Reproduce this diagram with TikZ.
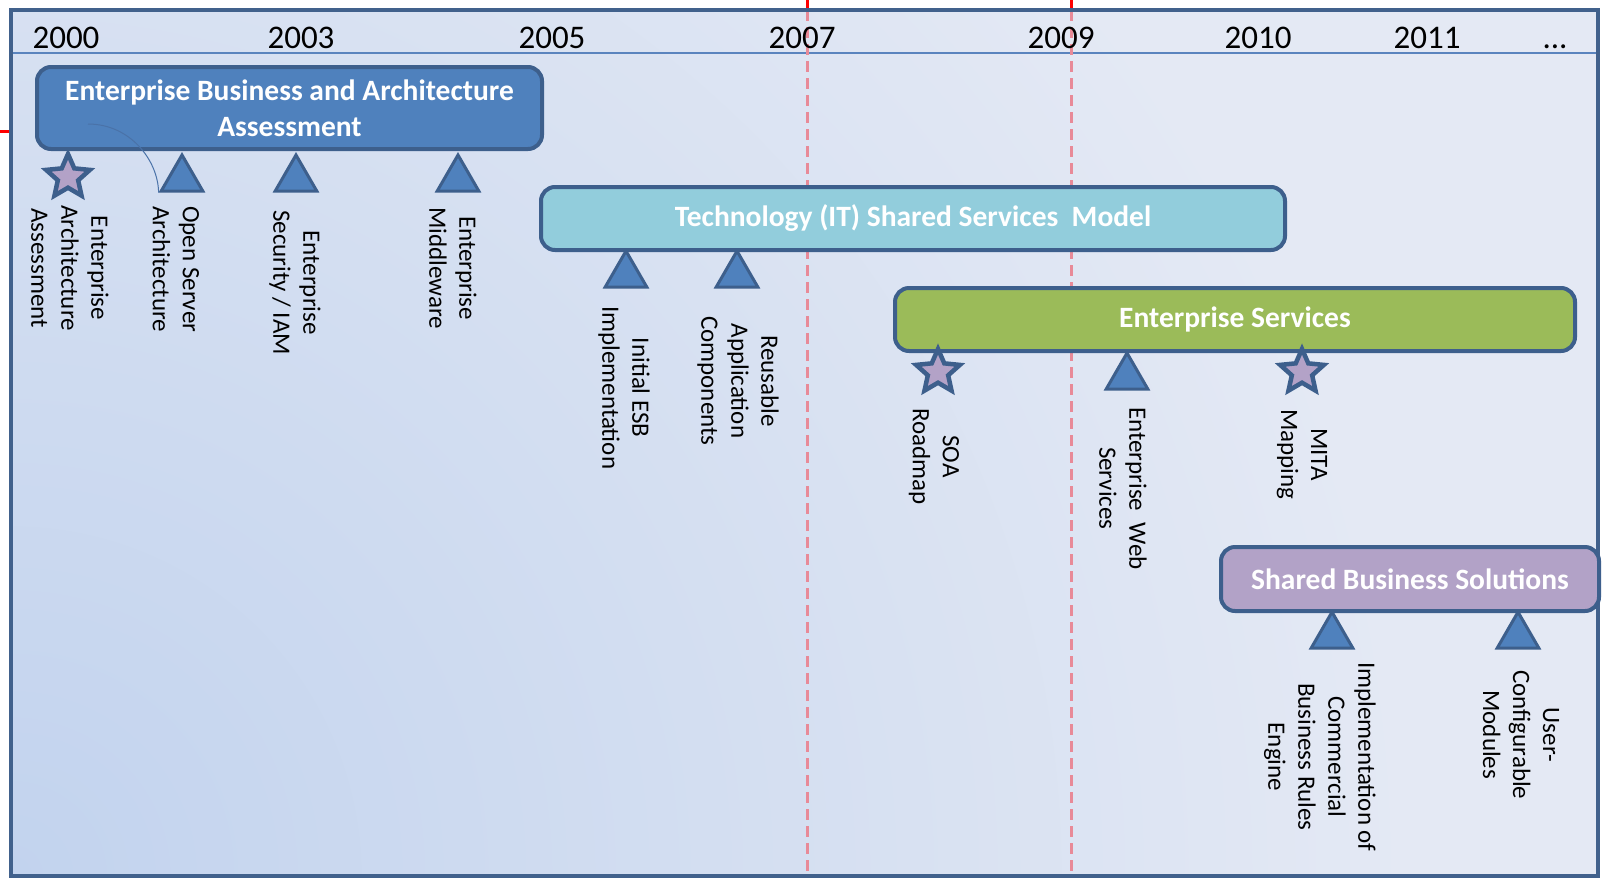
\documentclass[tikz,border=0pt]{standalone}
\usepackage{fontspec}
\setmainfont{Carlito}
\usetikzlibrary{shapes.geometric}
\definecolor{framec}{HTML}{41618C}
\definecolor{bgc}{HTML}{E4E9F4}
\definecolor{bgdeep}{HTML}{C2D3EE}
\definecolor{hdrc}{HTML}{5A84BE}
\definecolor{dashc}{HTML}{E88A98}
\definecolor{boxline}{HTML}{3D5F8C}
\definecolor{blueA}{HTML}{4F81BD}
\definecolor{cyanB}{HTML}{92CDDC}
\definecolor{greenC}{HTML}{9BBB59}
\definecolor{purpD}{HTML}{B2A2C7}
\definecolor{starfill}{HTML}{B3A2C7}
\definecolor{arcc}{HTML}{4A72A8}
\newcommand{\tlYr}{\fontsize{33}{40}\selectfont}
\newcommand{\tlLbl}{\fontsize{25}{30}\selectfont}
\newcommand{\tlTitle}{\fontsize{29.5}{36}\selectfont\bfseries}
\begin{document}
\begin{tikzpicture}[x=1pt,y=-1pt,
  box/.style={rounded corners=14pt, draw=boxline, line width=4pt, text=white, font=\tlTitle, align=center, inner sep=0pt},
  tri/.style={regular polygon, regular polygon sides=3, minimum size=48pt, inner sep=0pt, fill=blueA, draw=boxline, line width=3pt},
  starm/.style={star, star points=5, star point ratio=2.15, minimum size=46pt, inner sep=0pt, fill=starfill, draw=boxline, line width=4.5pt},
  lbl/.style={rotate=-90, anchor=west, align=center, font=\tlLbl, inner sep=0pt},
  yr/.style={anchor=base, font=\tlYr, inner sep=0pt},
  dashline/.style={dashc, line width=3pt, dash pattern=on 11pt off 6pt},
  redtick/.style={red, line width=3pt},
  arcline/.style={arcc, line width=1pt}
]
\useasboundingbox (0,0) rectangle (1604,879);
\fill[white] (0,0) rectangle (1604,879);
% background
\fill[bgc] (11,10) rectangle (1598,876);
\begin{scope}
  \clip (11,10) rectangle (1598,876);
  \shade[inner color=bgdeep, outer color=bgc] (11,876) circle (1400pt);
\end{scope}
% header line
\draw[hdrc, line width=1.5pt] (11,53) -- (1598,53);
% dashed year lines
\draw[dashline] (807,10) -- (807,876);
\draw[dashline] (1071,10) -- (1071,876);
% red ticks outside frame
\draw[redtick] (807,0) -- (807,10);
\draw[redtick] (1071,0) -- (1071,10);
\draw[redtick] (0,131) -- (11,131);
% frame
\draw[framec, line width=4pt] (11,10) rectangle (1598,876);
% years
\node[yr] (y2000) at (66,48) {2000};
\node[yr] (y2003) at (301,48) {2003};
\node[yr] (y2005) at (552,48) {2005};
\node[yr] (y2007) at (802,48) {2007};
\node[yr] (y2009) at (1061,48) {2009};
\node[yr] (y2010) at (1258,48) {2010};
\node[yr] (y2011) at (1427,48) {2011};
\node[yr] (ydots) at (1555,48) {...};
% phase boxes
\node[box, fill=blueA, minimum width=505pt, minimum height=82pt] (bA) at (289.5,108) {Enterprise Business and Architecture\\Assessment};
\node[box, fill=cyanB, minimum width=744pt, minimum height=63pt] (bB) at (913,218.5) {Technology (IT) Shared Services\ \ Model};
\node[box, fill=greenC, minimum width=680pt, minimum height=63pt] (bC) at (1235,319.5) {Enterprise Services};
\node[box, fill=purpD, minimum width=378pt, minimum height=64pt] (bD) at (1410,579) {Shared Business Solutions};
% thin arc start
\coordinate (arcA) at (88,124);
% markers
\node[starm] (s1) at (68,177) {};
\node[tri] (t2) at (182,179) {};
\node[tri] (t3) at (296,179) {};
\node[tri] (t4) at (458,179) {};
\node[tri] (t5) at (626,275) {};
\node[tri] (t6) at (737,275) {};
\node[starm] (s7) at (938,372) {};
\node[tri] (t8) at (1127,377) {};
\node[starm] (s9) at (1302,372) {};
\node[tri] (t10) at (1332,636) {};
\node[tri] (t11) at (1518,636) {};
\draw[arcline] (arcA) .. controls (130,124) and (158,160) .. (t2.corner 2);
% labels
\node[lbl] (l1) at (70,205) {Enterprise\\Architecture\\Assessment};
\node[lbl] (l2) at (176,206) {Open Server\\Architecture};
\node[lbl] (l3) at (295,210) {Enterprise\\Security / IAM};
\node[lbl] (l4) at (453,207) {Enterprise\\Middleware};
\node[lbl] (l5) at (624,306) {Initial ESB\\Implementation};
\node[lbl] (l6) at (738,316) {Reusable\\Application\\Components};
\node[lbl] (l7) at (934,408) {SOA\\Roadmap};
\node[lbl] (l8) at (1123,407) {Enterprise\ \ Web\\Services};
\node[lbl] (l9) at (1302,409) {MITA\\Mapping};
\node[lbl] (l10) at (1320,662) {Implementation of\\Commercial\\Business Rules\\Engine};
\node[lbl] (l11) at (1521,670) {User-\\Configurable\\Modules};
\end{tikzpicture}
\end{document}
